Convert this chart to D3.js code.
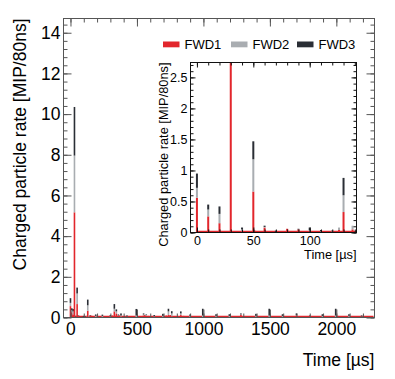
<!DOCTYPE html>
<html>
<head>
<meta charset="utf-8">
<script src="https://cdn.jsdelivr.net/npm/d3@7"></script>
<style>
  body { margin: 0; background: #fff; }
  svg { display: block; font-family: "Liberation Sans", Arial, sans-serif; }
</style>
</head>
<body>
<svg id="chart" width="395" height="379"></svg>
<script>
// Time of each spike [us] and rate per detector [MIP/80ns] (stacked)
const times = [0, 10, 17, 20, 30, 40, 50, 51, 60, 70, 80, 90, 100, 110, 120, 126, 130, 138,
    150, 160, 175, 190, 205, 240, 265, 300, 315, 330, 345, 360, 370, 380, 400, 425, 455, 495,
    520, 550, 560, 570, 585, 610, 630, 660, 695, 720, 737, 750, 762, 790, 830, 850, 880, 900,
    995, 1095, 1195, 1282, 1395, 1495, 1595, 1700, 1800, 1895, 1995, 2010, 2095, 2190];
const fwd1 = [0.56, 0.26, 0.02, 0.15, 5.17, 0.02, 0.66, 0.03, 0.08, 0.01, 0.06, 0.05, 0.02, 0.01, 0.01, 0.04, 0.33, 0.05,
    0.10, 0.08, 0.05, 0.03, 0.05, 0.03, 0.06, 0.05, 0.10, 0.30, 0.20, 0.08, 0.10, 0.05, 0.05, 0.03, 0.04, 0.02,
    0.05, 0.10, 0.12, 0.08, 0.08, 0.05, 0.03, 0.04, 0.03, 0.10, 0.12, 0.12, 0.06, 0.06, 0.12, 0.08, 0.05, 0.03,
    0.02, 0.03, 0.03, 0.13, 0.03, 0.02, 0.03, 0.10, 0.08, 0.03, 0.02, 0.08, 0.03, 0.02];
const fwd2 = [0.16, 0.11, 0.00, 0.15, 2.79, 0.03, 0.52, 0.00, 0.01, 0.00, 0.00, 0.00, 0.02, 0.01, 0.01, 0.04, 0.27, 0.06,
    0.00, 0.00, 0.00, 0.05, 0.00, 0.05, 0.00, 0.03, 0.00, 0.13, 0.10, 0.02, 0.00, 0.05, 0.00, 0.02, 0.00, 0.08,
    0.00, 0.05, 0.00, 0.04, 0.00, 0.00, 0.03, 0.00, 0.05, 0.00, 0.18, 0.00, 0.14, 0.00, 0.08, 0.00, 0.00, 0.05,
    0.08, 0.05, 0.05, 0.02, 0.05, 0.08, 0.05, 0.02, 0.00, 0.05, 0.08, 0.00, 0.05, 0.03];
const fwd3 = [0.23, 0.08, 0.00, 0.12, 2.39, 0.03, 0.29, 0.00, 0.02, 0.02, 0.00, 0.01, 0.04, 0.02, 0.01, 0.00, 0.28, 0.00,
    0.02, 0.00, 0.00, 0.07, 0.00, 0.06, 0.00, 0.04, 0.00, 0.23, 0.10, 0.05, 0.00, 0.10, 0.00, 0.05, 0.00, 0.32,
    0.00, 0.05, 0.00, 0.03, 0.00, 0.00, 0.06, 0.00, 0.10, 0.00, 0.13, 0.00, 0.11, 0.00, 0.10, 0.00, 0.00, 0.07,
    0.33, 0.08, 0.08, 0.05, 0.10, 0.33, 0.08, 0.08, 0.02, 0.08, 0.33, 0.00, 0.08, 0.05];

const seriesNames = ["FWD1", "FWD2", "FWD3"];
const seriesColors = ["#e2262c", "#a9adb1", "#2a2e35"];
const timeRange = [0, 2280];

const mainXTicks = [0, 500, 1000, 1500, 2000];
const mainYTicks = [0, 2, 4, 6, 8, 10, 12, 14];
const insetXTicks = [0, 50, 100];
const insetYTicks = [0, 0.5, 1, 1.5, 2, 2.5];

const svg = d3.select("#chart");
const series = [fwd1, fwd2, fwd3];

// minor tick values between lo and hi with given step
function minorTicks(lo, hi, step) {
    return d3.range(Math.ceil(lo / step - 1e-9), Math.floor(hi / step + 1e-9) + 1)
        .map(k => +(k * step).toFixed(6));
}

function drawPanel(p) {
    const g = svg.append("g");
    const x = d3.scaleLinear().domain(p.xDomain).range([p.left, p.right]);
    const y = d3.scaleLinear().domain(p.yDomain).range([p.bottom, p.top]);
    const clipId = "clip-" + p.name;

    g.append("clipPath").attr("id", clipId)
        .append("rect")
        .attr("x", p.left).attr("y", p.top)
        .attr("width", p.right - p.left).attr("height", p.bottom - p.top);

    if (p.background) {
        g.append("rect")
            .attr("x", p.left).attr("y", p.top)
            .attr("width", p.right - p.left).attr("height", p.bottom - p.top)
            .attr("fill", "#fff");
    }

    // stacked spikes, FWD1 at the bottom
    const bars = g.append("g").attr("clip-path", `url(#${clipId})`);
    const xMax = p.xDomain[1];
    bars.append("line")
        .attr("x1", x(timeRange[0])).attr("x2", x(Math.min(timeRange[1], xMax)))
        .attr("y1", y(0) - 0.8).attr("y2", y(0) - 0.8)
        .attr("stroke", seriesColors[0]).attr("stroke-width", 2);

    times.forEach((t, i) => {
        if (t > xMax) return;
        let base = 0;
        series.forEach((s, k) => {
            const v = s[i];
            if (v > 0) {
                bars.append("rect")
                    .attr("x", x(t) - p.barWidth / 2)
                    .attr("width", p.barWidth)
                    .attr("y", y(base + v))
                    .attr("height", y(base) - y(base + v))
                    .attr("fill", seriesColors[k]);
            }
            base += v;
        });
    });

    // axes on all four sides, ticks pointing inward
    const axes = [
        { make: () => d3.axisBottom(x), tr: `translate(0,${p.bottom})`, isX: true, lab: true },
        { make: () => d3.axisTop(x), tr: `translate(0,${p.top})`, isX: true, lab: false },
        { make: () => d3.axisLeft(y), tr: `translate(${p.left},0)`, isX: false, lab: true },
        { make: () => d3.axisRight(y), tr: `translate(${p.right},0)`, isX: false, lab: false }
    ];
    axes.forEach(a => {
        const dom = a.isX ? p.xDomain : p.yDomain;
        const minorVals = minorTicks(dom[0], dom[1], a.isX ? p.xMinor : p.yMinor);

        const gm = g.append("g").attr("transform", a.tr)
            .call(a.make().tickValues(minorVals).tickSize(-p.minorLen).tickSizeOuter(0).tickFormat(""));
        gm.select(".domain").remove();
        gm.selectAll("line").attr("stroke", p.axisColor);

        const ga = g.append("g").attr("transform", a.tr)
            .call(a.make().tickValues(a.isX ? p.xTicks : p.yTicks)
                .tickSize(-p.majorLen).tickSizeOuter(0)
                .tickPadding(a.isX ? p.xPad : p.yPad)
                .tickFormat(a.lab ? (d => String(d)) : ""));
        ga.select(".domain").remove();
        ga.selectAll("line").attr("stroke", p.axisColor);
        ga.selectAll("text")
            .attr("font-size", p.fontSize)
            .attr("font-family", "Liberation Sans, Arial, sans-serif")
            .attr("fill", "#000");
    });

    g.append("rect")
        .attr("x", p.left).attr("y", p.top)
        .attr("width", p.right - p.left).attr("height", p.bottom - p.top)
        .attr("fill", "none").attr("stroke", p.axisColor);

    // axis titles
    g.append("text")
        .attr("x", p.right).attr("y", p.xTitleY)
        .attr("text-anchor", "end")
        .attr("font-size", p.titleSize)
        .text("Time [µs]");
    g.append("text")
        .attr("transform", `translate(${p.yTitleX},${p.top}) rotate(-90)`)
        .attr("text-anchor", "end")
        .attr("font-size", p.titleSize)
        .text("Charged particle rate [MIP/80ns]");
}

drawPanel({
    name: "main",
    left: 63.5, right: 374.5, top: 18.5, bottom: 317.5,
    xDomain: [-52.5, 2287], yDomain: [0, 14.7],
    xTicks: mainXTicks, yTicks: mainYTicks, xMinor: 100, yMinor: 0.4,
    majorLen: 8, minorLen: 4, xPad: 5, yPad: 3,
    fontSize: 17.5, titleSize: 17.5, xTitleY: 366, yTitleX: 26,
    barWidth: 1.6, axisColor: "#555", background: false
});

drawPanel({
    name: "inset",
    left: 190.5, right: 356.5, top: 62.5, bottom: 232.5,
    xDomain: [-5.7, 141.5], yDomain: [0, 2.74],
    xTicks: insetXTicks, yTicks: insetYTicks, xMinor: 10, yMinor: 0.1,
    majorLen: 5, minorLen: 3, xPad: 4, yPad: 3,
    fontSize: 12.5, titleSize: 12.8, xTitleY: 259, yTitleX: 168,
    barWidth: 2, axisColor: "#111", background: true
});

// legend
const legend = svg.append("g");
const legendX = [163, 231, 297];
seriesNames.forEach((name, k) => {
    legend.append("rect")
        .attr("x", legendX[k]).attr("y", 41.5)
        .attr("width", 16.5).attr("height", 5.8)
        .attr("fill", seriesColors[k]);
    legend.append("text")
        .attr("x", legendX[k] + 21.5).attr("y", 49)
        .attr("font-size", 13)
        .text(name);
});
</script>
</body>
</html>
